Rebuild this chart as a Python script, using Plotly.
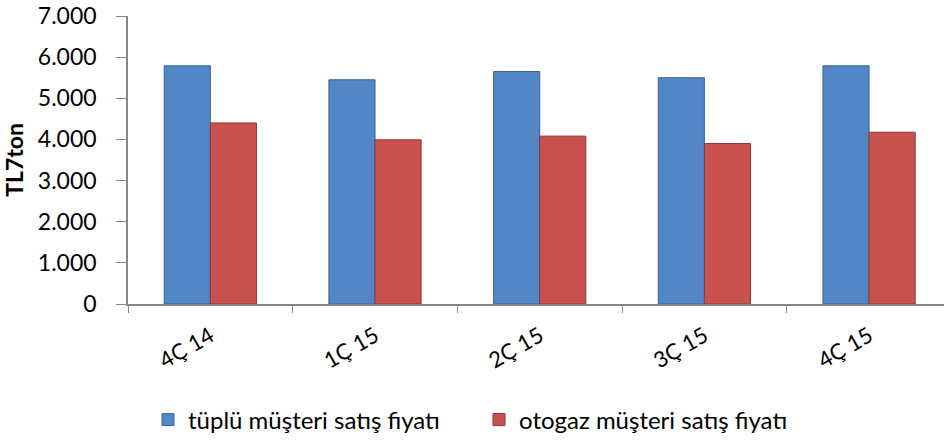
import plotly.graph_objects as go

categories = ["4Ç 14", "1Ç 15", "2Ç 15", "3Ç 15", "4Ç 15"]
tuplu = [5790, 5450, 5650, 5500, 5790]
otogaz = [4400, 3990, 4080, 3900, 4175]
series_names = ["tüplü müşteri satış fiyatı", "otogaz müşteri satış fiyatı"]
y_ticks = [0, 1000, 2000, 3000, 4000, 5000, 6000, 7000]

FONT = "Lato"

fig = go.Figure()
fig.add_trace(go.Bar(x=categories, y=tuplu, name=series_names[0],
                     marker=dict(color="#5286C6", line=dict(color="#3A6392", width=1))))
fig.add_trace(go.Bar(x=categories, y=otogaz, name=series_names[1],
                     marker=dict(color="#C9524F", line=dict(color="#8C3836", width=1))))

fig.update_layout(
    width=944, height=440,
    margin=dict(l=128, r=0, t=16, b=136, autoexpand=False),
    paper_bgcolor="white", plot_bgcolor="white",
    barmode="group", bargap=0.44, bargroupgap=0,
    separators=",.",
    font=dict(family=FONT, size=20, color="black"),
    showlegend=True,
    legend=dict(orientation="h", xref="container", yref="container",
                x=148 / 944, xanchor="left", y=1 - 420 / 440, yanchor="middle",
                bgcolor="rgba(0,0,0,0)", font=dict(size=24),
                itemwidth=30, entrywidth=286, traceorder="normal"),
)
fig.update_xaxes(
    type="category", range=[-0.5, 4.455], automargin=False,
    showline=True, linecolor="#868686", linewidth=1.5,
    ticks="outside", ticklen=7, tickcolor="#868686", tickson="boundaries",
    tickangle=-30, tickfont=dict(size=22), ticklabelstandoff=9, showgrid=False,
)
fig.update_yaxes(
    range=[0, 7000], tickvals=y_ticks, tickformat=",d", automargin=False,
    showline=True, linecolor="#868686", linewidth=1.5,
    ticks="outside", ticklen=10, tickcolor="#868686", ticklabelstandoff=15,
    ticklabeloverflow="allow",
    showgrid=False, zeroline=False, tickfont=dict(size=23),
    title=dict(text="<b>TL7ton</b>", font=dict(size=23), standoff=14),
)

fig.write_html("out.html", config={"displayModeBar": False},
               post_script="document.body.style.margin='0';")
